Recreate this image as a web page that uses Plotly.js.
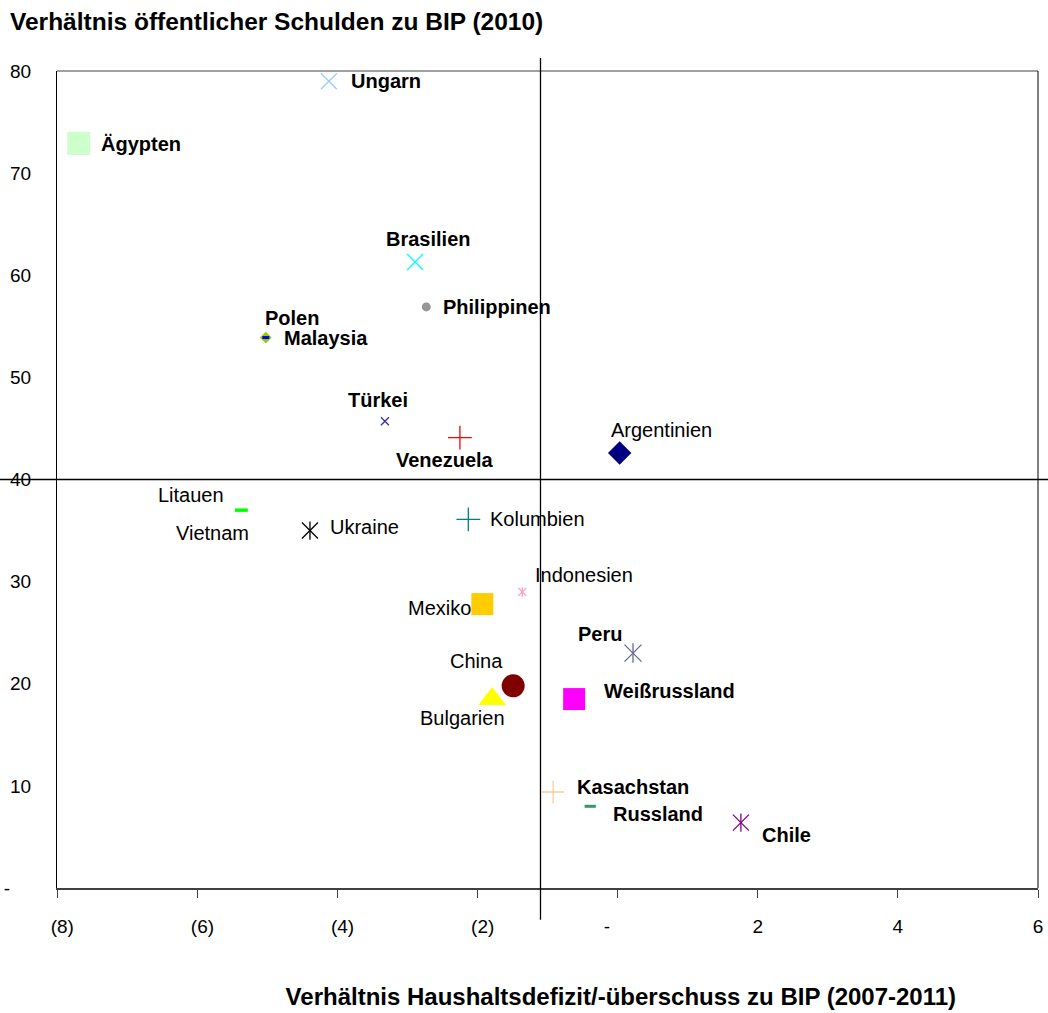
<!DOCTYPE html>
<html>
<head>
<meta charset="utf-8">
<script src="https://cdn.plot.ly/plotly-3.0.1.min.js"></script>
<style>html,body{margin:0;padding:0;background:#fff}#chart{width:1048px;height:1013px}</style>
</head>
<body>
<div id="chart"></div>
<script>
// ---- data ----
const countries = ["Ungarn","Ägypten","Brasilien","Philippinen","Polen","Malaysia","Türkei","Venezuela","Argentinien","Litauen","Vietnam","Ukraine","Kolumbien","Indonesien","Mexiko","Peru","China","Bulgarien","Weißrussland","Kasachstan","Russland","Chile"];
const deficit = [-4.12,-7.69,-2.89,-2.73,-5.02,-5.02,-3.32,-2.25,0.03,-5.37,-5.37,-4.39,-2.13,-1.36,-1.93,0.22,-1.49,-1.79,-0.62,-0.92,-0.39,1.76];
const debt = [79.0,72.9,61.3,56.9,53.9,53.9,45.7,44.1,42.6,37.0,37.0,35.0,36.1,29.0,27.8,23.0,19.8,18.5,18.5,9.4,8.0,6.4];
const xTickVals = [-8,-6,-4,-2,0,2,4,6];
const xTickText = ["\u00a0\u00a0(8)","\u00a0\u00a0(6)","\u00a0\u00a0(4)","\u00a0\u00a0(2)","-\u00a0\u00a0\u00a0\u00a0","2","4","6"];
const yTickVals = [0,10,20,30,40,50,60,70,80];
const yTickText = ["-\u00a0\u00a0\u00a0\u00a0","10","20","30","40","50","60","70","80"];
const crossX = -1.1;   // vertical reference line
const crossY = 40;     // horizontal reference line
const xRange = [-8,6];
const yRange = [0,80];
const chartTitle = "Verhältnis öffentlicher Schulden zu BIP (2010)";
const xTitle = "Verhältnis Haushaltsdefizit/-überschuss zu BIP (2007-2011)";

// ---- styles ----
const styles = {
  "Ungarn":      {sym:"x-thin-open", color:"#99ccff", size:16, bold:true,  xa:"left",   xs:20,  ys:0},
  "Ägypten":     {sym:"square",      color:"#ccffcc", size:23, bold:true,  xa:"left",   xs:20,  ys:0},
  "Brasilien":   {sym:"x-thin-open", color:"#00ffff", size:16, bold:true,  xa:"center", xs:13,  ys:23},
  "Philippinen": {sym:"circle",      color:"#969696", size:9,  bold:true,  xa:"left",   xs:15,  ys:0},
  "Polen":       {sym:"diamond",     color:"#99cc00", size:9,  bold:true,  xa:"center", xs:26,  ys:20},
  "Malaysia":    {sym:"line-ew-open",color:"#0000ff", size:5,  bold:true,  xa:"left",   xs:16,  ys:0, lw:3},
  "Türkei":      {sym:"x-thin-open", color:"#333399", size:8,  bold:true,  xa:"center", xs:-7,  ys:21},
  "Venezuela":   {sym:"cross-thin-open", color:"#ff0000", size:17, bold:true, xa:"center", xs:-15, ys:-22},
  "Argentinien": {sym:"diamond",     color:"#000080", size:18, bold:false, xa:"center", xs:42,  ys:23},
  "Litauen":     {sym:"line-ew-open",color:"#00ff00", size:9,  bold:false, xa:"center", xs:-50, ys:15, lw:3},
  "Vietnam":     {sym:"line-ew-open",color:"#00ff00", size:9,  bold:false, xa:"center", xs:-29, ys:-23, lw:3},
  "Ukraine":     {sym:"star6",       color:"#000000", size:16, bold:false, xa:"left",   xs:18,  ys:4},
  "Kolumbien":   {sym:"cross-thin-open", color:"#008080", size:17, bold:false, xa:"left", xs:20, ys:0},
  "Indonesien":  {sym:"star6",       color:"#ff99cc", size:8,  bold:false, xa:"center", xs:62,  ys:17},
  "Mexiko":      {sym:"square",      color:"#ffcc00", size:22, bold:false, xa:"right",  xs:-9,  ys:-4},
  "Peru":        {sym:"star6",       color:"#666699", size:17, bold:true,  xa:"center", xs:-33, ys:19},
  "China":       {sym:"circle",      color:"#800000", size:23, bold:false, xa:"center", xs:-37, ys:25},
  "Bulgarien":   {sym:"triangle-up", color:"#ffff00", size:24, bold:false, xa:"center", xs:-30, ys:-19},
  "Weißrussland":{sym:"square",      color:"#ff00ff", size:22, bold:true,  xa:"left",   xs:28,  ys:8},
  "Kasachstan":  {sym:"cross-thin-open", color:"#ffcc99", size:16, bold:true, xa:"left", xs:22, ys:5},
  "Russland":    {sym:"line-ew-open",color:"#339966", size:8,  bold:true,  xa:"left",   xs:21,  ys:-8, lw:3},
  "Chile":       {sym:"star6",       color:"#800080", size:16, bold:true,  xa:"left",   xs:19,  ys:-12}
};

// Build traces: "star6" = x-thin + vertical line (Excel star marker)
const traces = [];
countries.forEach((c,i) => {
  const s = styles[c];
  const parts = s.sym === "star6" ? ["x-thin-open","line-ns-open"] : [s.sym];
  parts.forEach(sym => {
    const open = /open/.test(sym);
    traces.push({
      type: "scatter", mode: "markers", name: c, showlegend: false, hoverinfo: "name+x+y",
      x: [deficit[i]], y: [debt[i]],
      marker: {
        symbol: sym,
        size: sym === "line-ns-open" ? s.size * 0.82 : s.size,
        color: s.color,
        line: open ? {color: s.color, width: s.lw || 1.3} : {width: 0}
      },
      cliponaxis: false
    });
  });
});

const annotations = countries.map((c,i) => {
  const s = styles[c];
  return {
    x: deficit[i], y: debt[i], xref: "x", yref: "y",
    text: s.bold ? "<b>" + c + "</b>" : c,
    showarrow: false, xanchor: s.xa, yanchor: "middle",
    xshift: s.xs, yshift: s.ys,
    font: {family: "Liberation Sans, Arial, sans-serif", size: 20, color: "#000"}
  };
});

const px = v => (v - xRange[0]) / (xRange[1] - xRange[0]);
const py = v => (v - yRange[0]) / (yRange[1] - yRange[0]);

const shapes = [
  // top border (gray) and right border
  {type:"line", xref:"paper", yref:"paper", x0:0, x1:1, y0:1, y1:1, line:{color:"#808080", width:1.5}},
  {type:"line", xref:"paper", yref:"paper", x0:1, x1:1, y0:0, y1:1, line:{color:"#000", width:1}},
  // crosshair lines
  {type:"line", xref:"paper", yref:"paper", x0:px(crossX), x1:px(crossX), y0:-0.039, y1:1.016, line:{color:"#000", width:1.3}},
  {type:"line", xref:"paper", yref:"paper", x0:-0.06, x1:1.02, y0:py(crossY), y1:py(crossY), line:{color:"#000", width:1.3}}
];

// pad the x-axis title on the left so its centre sits where the reference has it
const xTitlePad = "\u00a0".repeat(22);

const layout = {
  width: 1048, height: 1013,
  margin: {l: 57, r: 10, t: 71, b: 125},
  paper_bgcolor: "#fff", plot_bgcolor: "#fff",
  showlegend: false,
  font: {family: "Liberation Sans, Arial, sans-serif", color: "#000"},
  title: {
    text: "<b>" + chartTitle + "</b>",
    xref: "container", yref: "container", x: 10/1048, xanchor: "left",
    y: 1 - 21/1013, yanchor: "middle",
    font: {size: 24.5, color: "#000"}
  },
  xaxis: {
    range: xRange, tickvals: xTickVals, ticktext: xTickText,
    showgrid: false, zeroline: false,
    showline: true, linecolor: "#404040", linewidth: 2,
    ticks: "outside", ticklen: 8, tickwidth: 1, tickcolor: "#404040",
    tickfont: {size: 19, color: "#000"}, ticklabelstandoff: 12,
    automargin: false,
    title: {text: "<b>" + xTitlePad + xTitle + "</b>", standoff: 52, font: {size: 24, color: "#000"}}
  },
  yaxis: {
    range: yRange, tickvals: yTickVals, ticktext: yTickText,
    showgrid: false, zeroline: false,
    showline: true, linecolor: "#000", linewidth: 1,
    ticks: "", tickfont: {size: 19, color: "#000"}, ticklabelstandoff: 21,
    automargin: false
  },
  shapes: shapes,
  annotations: annotations
};

Plotly.newPlot("chart", traces, layout, {displayModeBar: false, staticPlot: true});
</script>
</body>
</html>
